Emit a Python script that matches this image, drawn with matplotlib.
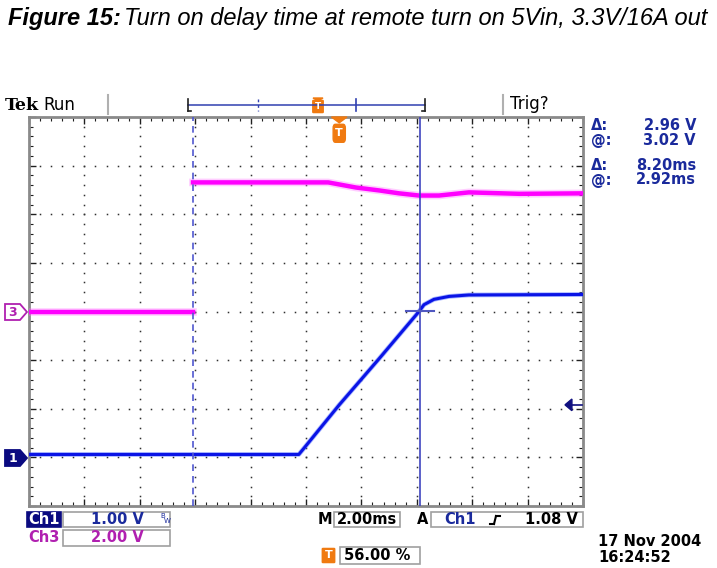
import numpy as np
import matplotlib.pyplot as plt
from matplotlib.patches import Rectangle, Polygon, FancyBboxPatch
from matplotlib.lines import Line2D

# ---- data (time in ms from left edge of screen) ----
ch1_t = [0, 9.74, 9.9, 11.2, 12.64, 14.08, 14.26, 14.62, 15.16, 15.88, 20]
ch1_v = [0.06, 0.06, 0.17, 1.08, 2.03, 3.0, 3.14, 3.25, 3.31, 3.34, 3.35]
ch3_t = [0, 5.92, 5.92, 10.8, 11.8, 12.64, 13.36, 14.08, 14.8, 15.88, 17.7, 20]
ch3_v = [0.0, 0.0, 5.31, 5.31, 5.1, 4.98, 4.86, 4.77, 4.77, 4.9, 4.84, 4.86]

ch1_scale, ch1_offset = 1.0, -3   # V/div, ground position in div
ch3_scale, ch3_offset = 2.0, 0
t_per_div = 2.0                   # ms/div
trig_pos = 11.2                   # ms (56 %)
trig_level = 1.08                 # V on ch1
cursor1, cursor2 = 5.92, 14.12    # ms
cursor_v = 3.02

W, H = 717, 568
fig = plt.figure(figsize=(W / 100, H / 100), dpi=100)
fig.patch.set_facecolor('white')


def fx(x):
    return x / W


def fy(y):
    return 1 - y / H


ax = fig.add_axes([fx(29), fy(506), fx(583) - fx(29), fy(117) - fy(506)])
ax.set_xlim(0, 10 * t_per_div)
ax.set_ylim(-4, 4)

# graticule dots
for k in range(1, 10):
    yy = np.arange(-4, 4.01, 0.2)
    ax.plot(np.full_like(yy, k * t_per_div), yy, ls='none', marker='s', ms=1.1, color='#303030', mew=0)
for j in range(-3, 4):
    xx = np.arange(0, 20.01, 0.4)
    ax.plot(xx, np.full_like(xx, j), ls='none', marker='s', ms=1.1, color='#303030', mew=0)

ax.set_xticks(np.arange(0, 20.1, 2))
ax.set_xticks(np.arange(0, 20.1, 0.4), minor=True)
ax.set_yticks(np.arange(-4, 4.1, 1))
ax.set_yticks(np.arange(-4, 4.1, 0.2), minor=True)
ax.tick_params(which='both', direction='in', top=True, right=True,
               labelbottom=False, labelleft=False, color='#202020')
ax.tick_params(which='major', length=5, width=1)
ax.tick_params(which='minor', length=3, width=0.8)
for s in ax.spines.values():
    s.set_color('#8a8a8a')
    s.set_linewidth(2)

# traces (ch3 step is too fast to show a vertical edge)
y3 = np.array(ch3_v) / ch3_scale + ch3_offset
y1 = np.array(ch1_v) / ch1_scale + ch1_offset
for seg in (slice(0, 2), slice(2, None)):
    ax.plot(ch3_t[seg], y3[seg], color='#ff70ff', lw=5.5, alpha=0.35, zorder=3)
    ax.plot(ch3_t[seg], y3[seg], color='#ff00ff', lw=3.2, zorder=4)
ax.plot(ch1_t, y1, color='#4060ff', lw=3.4, alpha=0.45, zorder=3)
ax.plot(ch1_t, y1, color='#0a14e6', lw=2.2, zorder=4)

# cursors
ax.axvline(cursor1, color='#5058d0', lw=1.2, ls=(0, (4, 3)), zorder=5)
ax.axvline(cursor2, color='#4046c0', lw=1.2, zorder=5)
cy = cursor_v / ch1_scale + ch1_offset
ax.plot([cursor2 - 0.5, cursor2 + 0.5], [cy, cy], color='#5058c0', lw=1.5, zorder=6)

# trigger level arrow (right side)
ty = trig_level / ch1_scale + ch1_offset
ax.plot([19.55, 19.95], [ty, ty], color='#101080', lw=1.2, zorder=6)
ax.add_patch(Polygon([[19.35, ty], [19.6, ty + 0.12], [19.6, ty - 0.12]], closed=True,
                     color='#101080', zorder=6, clip_on=False))

# trigger position marker (top of graticule)
ax.add_patch(Polygon([[trig_pos - 0.28, 4.0], [trig_pos + 0.28, 4.0], [trig_pos, 3.88]],
                     closed=True, color='#f07a10', zorder=7, clip_on=False))
ax.add_patch(FancyBboxPatch((trig_pos - 0.2, 3.5), 0.4, 0.33,
                            boxstyle='round,pad=0.02,rounding_size=0.08',
                            color='#f07a10', zorder=7, clip_on=False))
ax.text(trig_pos, 3.665, 'T', color='white', fontsize=8, fontweight='bold',
        ha='center', va='center', zorder=8)

# channel ground markers (left)
def ch_marker(y, label, face, edge, txt):
    pts = [(5, y - 8), (20, y - 8), (27, y), (20, y + 8), (5, y + 8)]
    fig.patches.append(Polygon([(fx(a), fy(b)) for a, b in pts], closed=True,
                               facecolor=face, edgecolor=edge, lw=1.3,
                               transform=fig.transFigure, figure=fig))
    fig.text(fx(13), fy(y), label, color=txt, fontsize=9, fontweight='bold',
             ha='center', va='center')


ch_marker(312, '3', 'white', '#b020b0', '#b020b0')
ch_marker(458, '1', '#0a0a80', '#0a0a80', 'white')

# title
fig.text(fx(8), fy(18), 'Figure 15:', fontsize=17, fontweight='bold', fontstyle='italic',
         family='Liberation Sans', va='center', ha='left')
fig.text(fx(124), fy(18), 'Turn on delay time at remote turn on 5Vin, 3.3V/16A out',
         fontsize=17, fontstyle='italic', family='Liberation Sans', va='center', ha='left')

# header bar
fig.text(fx(5), fy(105), 'Tek', fontsize=12.5, fontweight='bold', family='DejaVu Serif',
         va='center', ha='left')
fig.text(fx(43), fy(105), 'Run', fontsize=12, va='center', ha='left')
fig.text(fx(510), fy(104), 'Trig?', fontsize=12, va='center', ha='left')


def fline(x0, y0, x1, y1, **kw):
    fig.lines.append(Line2D([fx(x0), fx(x1)], [fy(y0), fy(y1)],
                            transform=fig.transFigure, figure=fig, **kw))


fline(108, 95, 108, 114, color='#b0b0b0', lw=1.5)
fline(503, 95, 503, 114, color='#b0b0b0', lw=1.5)
fline(188, 105, 425, 105, color='#3040b0', lw=1.1)
fline(188, 99, 188, 111, color='#202020', lw=1.2)
fline(188, 111, 191, 111, color='#202020', lw=1.2)
fline(425, 99, 425, 111, color='#202020', lw=1.2)
fline(425, 111, 422, 111, color='#202020', lw=1.2)
fline(258, 99, 258, 111, color='#3040b0', lw=1, ls=(0, (2, 2)))
fline(356, 99, 356, 111, color='#3040b0', lw=1.2)
fig.patches.append(Polygon([(fx(313), fy(98)), (fx(323), fy(98)), (fx(318), fy(101))],
                           closed=True, color='#f07a10', transform=fig.transFigure, figure=fig))
fig.patches.append(FancyBboxPatch((fx(313.5), fy(112)), fx(9), fy(101) - fy(112),
                                  boxstyle='round,pad=0.001', color='#f07a10',
                                  transform=fig.transFigure, figure=fig))
fig.text(fx(318), fy(106.5), 'T', color='white', fontsize=6.5, fontweight='bold',
         ha='center', va='center')

# cursor readouts
blue_txt = '#1a2a9c'
for y, a, b in [(126, 'Δ:', '2.96 V'), (141, '@:', '3.02 V'),
                (165, 'Δ:', '8.20ms'), (180, '@:', '2.92ms')]:
    fig.text(fx(591), fy(y), a, color=blue_txt, fontsize=10.5, fontweight='bold',
             va='center', ha='left')
    fig.text(fx(696), fy(y), b, color=blue_txt, fontsize=10.5, fontweight='bold',
             va='center', ha='right')

# bottom readouts
def fbox(x0, y0, x1, y1, face='none', edge='#a0a0a0'):
    fig.patches.append(Rectangle((fx(x0), fy(y1)), fx(x1) - fx(x0), fy(y0) - fy(y1),
                                 facecolor=face, edgecolor=edge, lw=1.2,
                                 transform=fig.transFigure, figure=fig))


fbox(27, 512, 61, 527, face='#0a0a80', edge='#0a0a80')
fig.text(fx(44), fy(520), 'Ch1', color='white', fontsize=10.5, fontweight='bold',
         ha='center', va='center')
fbox(63, 512, 170, 527)
fig.text(fx(117), fy(520), '1.00 V', color=blue_txt, fontsize=10.5, fontweight='bold',
         ha='center', va='center')
fig.text(fx(160), fy(516), 'B', color=blue_txt, fontsize=5, ha='left', va='center')
fig.text(fx(164), fy(521), 'W', color=blue_txt, fontsize=5, ha='left', va='center')
fig.text(fx(44), fy(538), 'Ch3', color='#b020b0', fontsize=10.5, fontweight='bold',
         ha='center', va='center')
fbox(63, 530, 170, 546)
fig.text(fx(117), fy(538), '2.00 V', color='#b020b0', fontsize=10.5, fontweight='bold',
         ha='center', va='center')

fig.text(fx(318), fy(520), 'M', fontsize=10.5, fontweight='bold', ha='left', va='center')
fbox(334, 512, 400, 527)
fig.text(fx(367), fy(520), '2.00ms', fontsize=10.5, fontweight='bold', ha='center', va='center')
fig.text(fx(417), fy(520), 'A', fontsize=10.5, fontweight='bold', ha='left', va='center')
fbox(431, 512, 583, 527)
fig.text(fx(444), fy(520), 'Ch1', color=blue_txt, fontsize=10.5, fontweight='bold',
         ha='left', va='center')
fline(490, 524, 494, 524, color='black', lw=1.5)
fline(494, 524, 496, 516, color='black', lw=1.5)
fline(496, 516, 500, 516, color='black', lw=1.5)
fig.text(fx(578), fy(520), '1.08 V', fontsize=10.5, fontweight='bold', ha='right', va='center')

fig.patches.append(FancyBboxPatch((fx(323), fy(562)), fx(11), fy(549) - fy(562),
                                  boxstyle='round,pad=0.001', color='#f07a10',
                                  transform=fig.transFigure, figure=fig))
fig.text(fx(328.5), fy(555.5), 'T', color='white', fontsize=8, fontweight='bold',
         ha='center', va='center')
fbox(340, 547, 420, 564)
fig.text(fx(344), fy(556), '56.00 %', fontsize=10.5, fontweight='bold', ha='left', va='center')

fig.text(fx(598), fy(541), '17 Nov 2004', fontsize=10.5, fontweight='bold', ha='left', va='center')
fig.text(fx(598), fy(557), '16:24:52', fontsize=10.5, fontweight='bold', ha='left', va='center')

fig.savefig('out.png', dpi=100)
